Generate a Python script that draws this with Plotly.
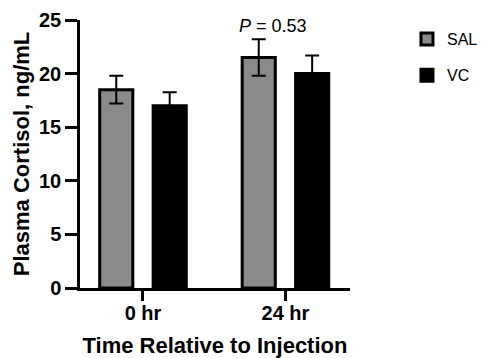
import plotly.graph_objects as go

categories = ["0 hr", "24 hr"]
sal_mean = [18.5, 21.5]
sal_sem = [1.3, 1.7]
vc_mean = [17.0, 20.0]
vc_sem = [1.25, 1.7]
y_ticks = [0, 5, 10, 15, 20, 25]
p_text = "<i>P</i> = 0.53"

FONT = "Liberation Sans, Arial, sans-serif"

fig = go.Figure()
fig.add_trace(go.Bar(
    name="SAL", x=categories, y=sal_mean,
    marker=dict(color="#8a8a8a", line=dict(color="black", width=3)),
    error_y=dict(type="data", array=sal_sem, visible=True, color="black", thickness=2, width=7),
    legendgroup="a",
))
fig.add_trace(go.Bar(
    name="VC", x=categories, y=vc_mean,
    marker=dict(color="black", line=dict(color="black", width=3)),
    error_y=dict(type="data", array=vc_sem, visible=True, color="black", thickness=2, width=7),
    legendgroup="b",
))

fig.add_annotation(x=categories[1], y=24.4, text=p_text, showarrow=False,
                   xshift=-12, font=dict(family=FONT, size=18, color="black"))

fig.update_layout(
    width=493, height=358,
    margin=dict(l=72, r=151, t=12, b=78, autoexpand=False),
    paper_bgcolor="white", plot_bgcolor="white",
    barmode="group", bargap=0.25, bargroupgap=0.38,
    font=dict(family=FONT, color="black"),
    showlegend=True,
    legend=dict(x=1.211, y=0.9925, xanchor="left", yanchor="top", itemwidth=30,
                font=dict(family=FONT, size=16, color="black"),
                tracegroupgap=12.5, bgcolor="rgba(0,0,0,0)"),
    xaxis=dict(
        range=[-0.442, 1.453], showline=True, linecolor="black", linewidth=2.5,
        ticks="outside", ticklen=10, tickwidth=2.5, tickcolor="black",
        ticklabelstandoff=-5,
        tickfont=dict(family=FONT, size=20, color="black", weight="bold"),
        title=dict(text="<b>Time Relative to Injection</b>", standoff=15,
                   font=dict(family=FONT, size=22, color="black")),
        showgrid=False, zeroline=False,
    ),
    yaxis=dict(
        range=[0, 25], tickvals=y_ticks, showline=True, linecolor="black", linewidth=2.5,
        ticks="outside", ticklen=12, tickwidth=2.5, tickcolor="black",
        tickfont=dict(family=FONT, size=20, color="black", weight="bold"),
        title=dict(text="<b>Plasma Cortisol, ng/mL</b>", standoff=4,
                   font=dict(family=FONT, size=22, color="black")),
        showgrid=False, zeroline=False,
    ),
)

fig.write_html("out.html")
